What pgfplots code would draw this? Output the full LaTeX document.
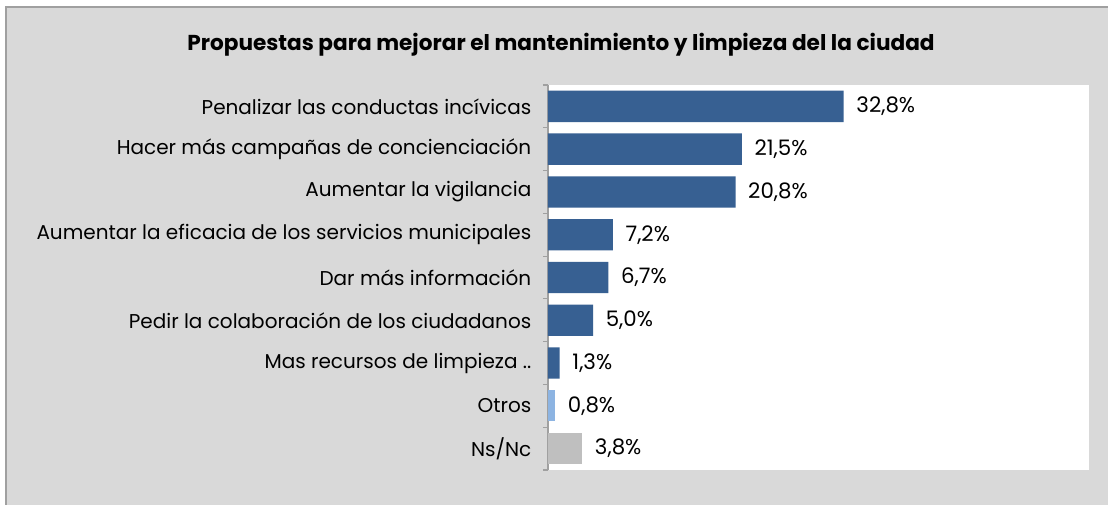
\documentclass[border=0pt]{standalone}
\usepackage{pgfplots}
\pgfplotsset{compat=1.18}
\usepackage{fontspec}
\setmainfont{Poppins}
\definecolor{bgc}{HTML}{D9D9D9}
\definecolor{framec}{HTML}{A0A0A0}
\definecolor{darkb}{HTML}{376092}
\definecolor{lightb}{HTML}{8DB4E2}
\definecolor{grayb}{HTML}{BFBFBF}
\begin{document}
\begin{tikzpicture}[x=1pt,y=1pt]
\clip (-411,-26.25) rectangle (420,352.5);
\useasboundingbox (-411,-26.25) rectangle (420,352.5);
\fill[white] (-411,-26.25) rectangle (420,352.5);
\fill[bgc] (-406.5,-40) rectangle (440,347.25);
\draw[framec,line width=1.3pt] (-406.5,-40) -- (-406.5,347.25) -- (440,347.25);
\node[font=\bfseries\fontsize{16.2}{19}\selectfont] at (9.75,319) {Propuestas para mejorar el mantenimiento y limpieza del la ciudad};
\begin{axis}[
  at={(0,0)}, anchor=south west,
  scale only axis,
  width=405.75pt, height=288.75pt,
  xbar, bar width=23.5pt,
  xmin=0, xmax=60,
  ymin=-0.5, ymax=8.5, y dir=reverse,
  axis x line=none,
  axis y line*=left,
  y axis line style={framec, line width=0.8pt},
  axis background/.style={fill=white},
  ytick={0,1,2,3,4,5,6,7,8},
  yticklabels={Penalizar las conductas incívicas,Hacer más campañas de concienciación,Aumentar la vigilancia,Aumentar la eficacia de los servicios municipales,Dar más información,Pedir la colaboración de los ciudadanos,Mas recursos de limpieza ..,Otros,Ns/Nc},
  major tick length=0pt,
  yticklabel style={font=\fontsize{15}{18}\selectfont, anchor=east, xshift=-9pt},
  extra y ticks={-0.5,0.5,1.5,2.5,3.5,4.5,5.5,6.5,7.5,8.5},
  extra y tick labels={},
  extra y tick style={major tick length=3.75pt, tick align=outside, tick pos=left, tick style={framec, line width=0.8pt}},
  nodes near coords={\pgfmathprintnumber[fixed,fixed zerofill,precision=1,use comma]{\pgfplotspointmeta}\%},
  nodes near coords style={font=\fontsize{16}{19}\selectfont, anchor=west, xshift=6pt, black},
  /pgf/number format/assume math mode=true,
  clip=false,
]
\addplot[fill=darkb, draw=none, bar shift=0pt] coordinates {(32.8,0) (21.5,1) (20.8,2) (7.2,3) (6.7,4) (5.0,5) (1.3,6)};
\addplot[fill=lightb, draw=none, bar shift=0pt] coordinates {(0.8,7)};
\addplot[fill=grayb, draw=none, bar shift=0pt] coordinates {(3.8,8)};
\end{axis}
\end{tikzpicture}
\end{document}
